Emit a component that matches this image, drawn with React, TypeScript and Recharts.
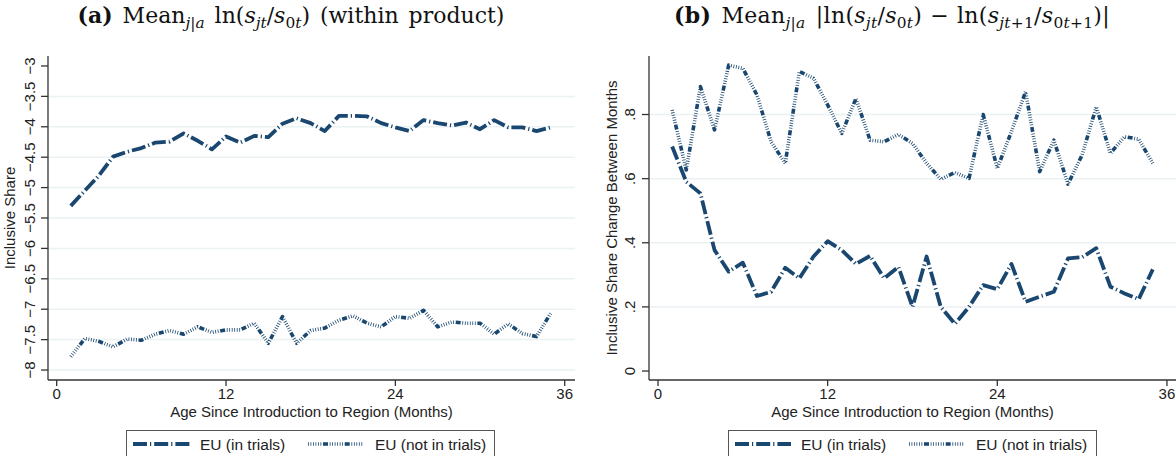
import React from "react";
import { LineChart, Line, XAxis, YAxis, ReferenceLine, Label } from "recharts";

// ---------- data ----------
const months = [1, 2, 3, 4, 5, 6, 7, 8, 9, 10, 11, 12, 13, 14, 15, 16, 17, 18, 19, 20, 21, 22, 23, 24, 25, 26, 27, 28, 29, 30, 31, 32, 33, 34, 35];

const leftInTrials = [-5.3, -5.05, -4.8, -4.49, -4.41, -4.35, -4.26, -4.245, -4.11, -4.23, -4.37, -4.16, -4.26, -4.15, -4.17, -3.95, -3.86, -3.94, -4.07, -3.82, -3.82, -3.83, -3.94, -4.01, -4.07, -3.89, -3.94, -3.98, -3.93, -4.04, -3.89, -4.01, -4.01, -4.07, -4.01];
const leftNotInTrials = [-7.78, -7.48, -7.53, -7.62, -7.49, -7.51, -7.41, -7.35, -7.41, -7.29, -7.38, -7.34, -7.34, -7.23, -7.56, -7.12, -7.56, -7.35, -7.31, -7.18, -7.11, -7.23, -7.29, -7.12, -7.15, -7.02, -7.29, -7.21, -7.23, -7.23, -7.41, -7.24, -7.4, -7.45, -7.07];

const rightInTrials = [0.7, 0.59, 0.554, 0.377, 0.31, 0.338, 0.234, 0.247, 0.322, 0.289, 0.357, 0.405, 0.377, 0.334, 0.359, 0.289, 0.325, 0.2, 0.357, 0.2, 0.147, 0.2, 0.268, 0.255, 0.334, 0.216, 0.232, 0.247, 0.351, 0.355, 0.383, 0.263, 0.242, 0.224, 0.317];
const rightNotInTrials = [0.814, 0.627, 0.887, 0.752, 0.954, 0.944, 0.861, 0.715, 0.648, 0.934, 0.913, 0.83, 0.741, 0.85, 0.72, 0.715, 0.738, 0.71, 0.648, 0.598, 0.619, 0.601, 0.8, 0.632, 0.747, 0.871, 0.622, 0.72, 0.583, 0.674, 0.824, 0.679, 0.731, 0.723, 0.648];

const xTicks = [0, 12, 24, 36];
const leftYTicks = [-8, -7.5, -7, -6.5, -6, -5.5, -5, -4.5, -4, -3.5, -3];
const leftGrid = [-8, -7.5, -7, -6.5, -6, -5.5, -5, -4.5, -4, -3.5];
const rightYTicks = [0, 0.2, 0.4, 0.6, 0.8];
const rightGrid = [0.2, 0.4, 0.6, 0.8];

const seriesNames = ["EU (in trials)", "EU (not in trials)"];
const xTitle = "Age Since Introduction to Region (Months)";
const leftYTitle = "Inclusive Share";
const rightYTitle = "Inclusive Share Change Between Months";

const leftData = months.map((m, i) => ({ month: m, a: leftInTrials[i], b: leftNotInTrials[i] }));
const rightData = months.map((m, i) => ({ month: m, a: rightInTrials[i], b: rightNotInTrials[i] }));

// ---------- styles ----------
const NAVY = "#1a476f";
const AXIS = "#333333";
const GRID = "#eaf2f3";
const SANS = "'Liberation Sans', Arial, Helvetica, sans-serif";
const SERIF = "'DejaVu Serif', 'Liberation Serif', serif";
const FS = 15;
const DASH_DOT = "14 3 1.2 3";
const DOT_DASH = "0.8 1.7 0.8 1.7 0.8 1.7 0.8 1.7 0.8 1.7 0.8 1.7 5 1.7";

const fmtLeft = (v: number) => (v < 0 ? "\u2212" + String(Math.abs(v)) : String(v));
const fmtRight = (v: number) => (v === 0 ? "0" : String(v).replace(/^0/, ""));

const makeYTick = (fmt: (v: number) => string, shift: number) => (props: any) => {
  const { x, y, payload } = props;
  const bx = x - shift;
  return (
    <text
      x={bx}
      y={y}
      transform={`rotate(-90 ${bx} ${y})`}
      textAnchor="middle"
      fontFamily={SANS}
      fontSize={FS}
      fill="#222"
    >
      {fmt(payload.value)}
    </text>
  );
};

const XTickC = (props: any) => {
  const { x, y, payload } = props;
  return (
    <text x={x} y={y + 11} textAnchor="middle" fontFamily={SANS} fontSize={FS} fill="#222">
      {payload.value}
    </text>
  );
};

const sub: React.CSSProperties = { fontSize: "0.7em", verticalAlign: "-0.3em", lineHeight: 0, wordSpacing: 0 };
const binop: React.CSSProperties = { margin: "0 8px" };

function Panel(props: {
  data: any[];
  left: number;
  width: number;
  yWidth: number;
  marginRight: number;
  xDomain: [number, number];
  yDomain: [number, number];
  yTicks: number[];
  grid: number[];
  fmt: (v: number) => string;
  tickShift: number;
  yTitle: string;
  yTitleOffset: number;
}) {
  return (
    <div style={{ position: "absolute", left: props.left, top: 0 }}>
      <LineChart
        width={props.width}
        height={456}
        data={props.data}
        margin={{ top: 56, right: props.marginRight, left: 0, bottom: 34 }}
      >
        {props.grid.map((g) => (
          <ReferenceLine key={g} y={g} stroke={GRID} strokeWidth={1.5} />
        ))}
        <XAxis
          type="number"
          dataKey="month"
          domain={props.xDomain}
          ticks={xTicks}
          allowDataOverflow
          height={42}
          tickSize={6}
          tick={<XTickC />}
          stroke={AXIS}
          strokeWidth={1.3}
        >
          <Label
            value={xTitle}
            position="insideBottom"
            offset={5}
            style={{ fontFamily: SANS, fontSize: FS, fill: "#222" }}
          />
        </XAxis>
        <YAxis
          type="number"
          domain={props.yDomain}
          ticks={props.yTicks}
          allowDataOverflow
          width={props.yWidth}
          tickSize={7}
          tick={makeYTick(props.fmt, props.tickShift)}
          stroke={AXIS}
          strokeWidth={1.3}
          interval={0}
        >
          <Label
            value={props.yTitle}
            angle={-90}
            position="insideLeft"
            offset={props.yTitleOffset}
            style={{ fontFamily: SANS, fontSize: FS, fill: "#222", textAnchor: "middle" }}
          />
        </YAxis>
        <Line
          dataKey="b"
          stroke={NAVY}
          strokeWidth={3.6}
          strokeDasharray={DOT_DASH}
          dot={false}
          activeDot={false}
          isAnimationActive={false}
          strokeLinejoin="round"
        />
        <Line
          dataKey="a"
          stroke={NAVY}
          strokeWidth={3.8}
          strokeDasharray={DASH_DOT}
          dot={false}
          activeDot={false}
          isAnimationActive={false}
          strokeLinejoin="round"
        />
      </LineChart>
    </div>
  );
}

function LegendBox(props: { x: number; w: number; s1: [number, number]; t1: number; s2: [number, number]; t2: number }) {
  const cy = 444;
  return (
    <g>
      <rect x={props.x + 0.5} y={430.5} width={props.w} height={34} fill="#fff" stroke="#555" strokeWidth={1} />
      <line x1={props.s1[0]} x2={props.s1[1]} y1={cy} y2={cy} stroke={NAVY} strokeWidth={3.8} strokeDasharray={DASH_DOT} />
      <text x={props.t1} y={cy + 5.5} fontFamily={SANS} fontSize={15.5} fill="#222">
        {seriesNames[0]}
      </text>
      <line x1={props.s2[0]} x2={props.s2[1]} y1={cy} y2={cy} stroke={NAVY} strokeWidth={3.6} strokeDasharray={DOT_DASH} />
      <text x={props.t2} y={cy + 5.5} fontFamily={SANS} fontSize={15.5} fill="#222">
        {seriesNames[1]}
      </text>
    </g>
  );
}

const titleStyle = (left: number, width: number, ls: number): React.CSSProperties => ({
  position: "absolute",
  left,
  width,
  top: 2,
  textAlign: "center",
  fontFamily: SERIF,
  fontSize: 22,
  wordSpacing: 3,
  letterSpacing: ls,
  whiteSpace: "nowrap",
  color: "#111",
});

export default function App() {
  return (
    <div style={{ position: "fixed", left: 0, top: 0, width: 1176, height: 456, background: "#fff", overflow: "hidden" }}>
      <div style={titleStyle(0, 582, 0)}>
        <b>(a)</b> Mean
        <span style={sub}>
          <i>j</i>|<i>a</i>
        </span>{" "}
        ln(<i>s</i>
        <span style={sub}>
          <i>jt</i>
        </span>
        /<i>s</i>
        <span style={sub}>
          0<i>t</i>
        </span>
        ) (within product)
      </div>
      <div style={titleStyle(592, 600, 0.3)}>
        <b>(b)</b> Mean
        <span style={sub}>
          <i>j</i>|<i>a</i>
        </span>{" "}
        |ln(<i>s</i>
        <span style={sub}>
          <i>jt</i>
        </span>
        /<i>s</i>
        <span style={sub}>
          0<i>t</i>
        </span>
        )<span style={binop}>−</span>ln(<i>s</i>
        <span style={sub}>
          <i>jt</i>+1
        </span>
        /<i>s</i>
        <span style={sub}>
          0<i>t</i>+1
        </span>
        )|
      </div>

      <Panel
        data={leftData}
        left={0}
        width={590}
        yWidth={48}
        marginRight={15}
        xDomain={[-0.615, 36.73]}
        yDomain={[-8.164, -2.836]}
        yTicks={leftYTicks}
        grid={leftGrid}
        fmt={fmtLeft}
        tickShift={4}
        yTitle={leftYTitle}
        yTitleOffset={10}
      />
      <Panel
        data={rightData}
        left={590}
        width={586}
        yWidth={59}
        marginRight={0}
        xDomain={[-0.637, 36.64]}
        yDomain={[-0.028, 0.9825]}
        yTicks={rightYTicks}
        grid={rightGrid}
        fmt={fmtRight}
        tickShift={5}
        yTitle={rightYTitle}
        yTitleOffset={22}
      />

      <svg width={1176} height={456} style={{ position: "absolute", left: 0, top: 0, pointerEvents: "none" }}>
        <LegendBox x={126} w={368} s1={[133, 190]} t1={200} s2={[308, 363]} t2={375} />
        <LegendBox x={728} w={368} s1={[735, 791]} t1={801} s2={[909, 964]} t2={976} />
      </svg>
    </div>
  );
}
